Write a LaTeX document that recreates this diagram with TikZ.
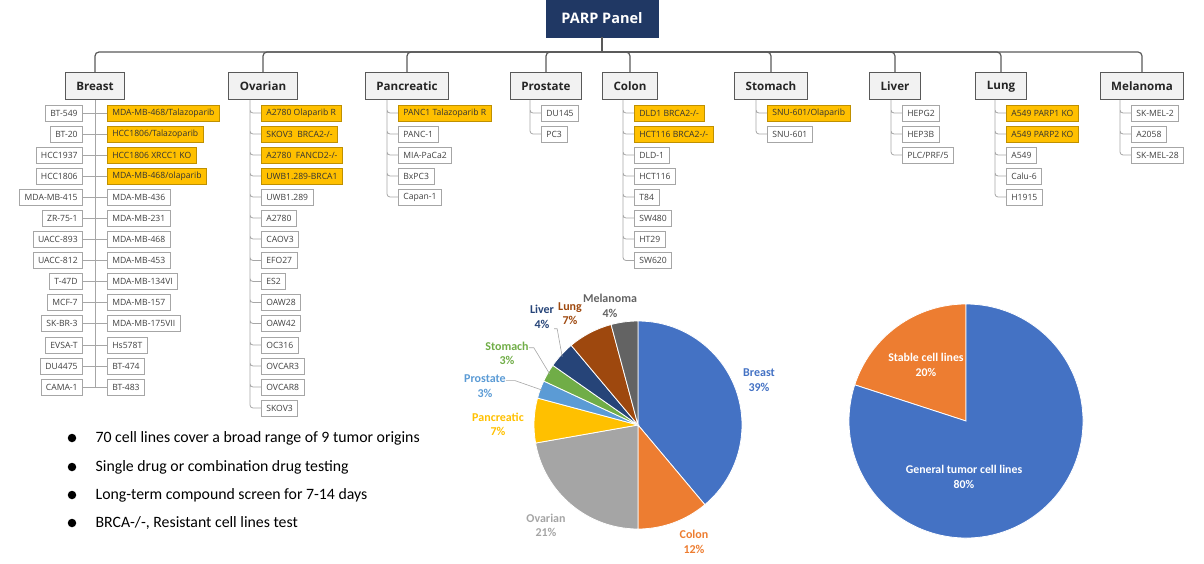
\documentclass[tikz,border=0pt]{standalone}
\usepackage{fontspec}
\setmainfont{Carlito}
\newfontfamily\treefont{Open Sans}
\usetikzlibrary{positioning}

\definecolor{navy}{HTML}{203864}
\definecolor{gold}{HTML}{FFC000}
\definecolor{golddark}{HTML}{BF9000}
\definecolor{boxline}{HTML}{A6A6A6}
\definecolor{headline}{HTML}{595959}
\definecolor{headfill}{HTML}{F2F2F2}
\definecolor{ink}{HTML}{404040}
\definecolor{cBreast}{HTML}{4472C4}
\definecolor{cColon}{HTML}{ED7D31}
\definecolor{cOvarian}{HTML}{A5A5A5}
\definecolor{cPancreatic}{HTML}{FFC000}
\definecolor{cProstate}{HTML}{5B9BD5}
\definecolor{cStomach}{HTML}{70AD47}
\definecolor{cLiver}{HTML}{264478}
\definecolor{cLung}{HTML}{9E480E}
\definecolor{cMelanoma}{HTML}{636363}

\begin{document}
\begin{tikzpicture}[
      x=1pt, y=1pt,
      every node/.style={font=\treefont\fontsize{8.6}{9}\selectfont, text=ink},
      rootbox/.style={rectangle, draw=navy, fill=navy, text=white, font=\treefont\bfseries\fontsize{14.5}{16}\selectfont, minimum width=112pt, minimum height=37pt},
      headbox/.style={rectangle, draw=headline, line width=1pt, fill=headfill, text=black!85, font=\treefont\bfseries\fontsize{11.6}{13}\selectfont, minimum height=27pt, inner xsep=11pt},
      cell/.style={rectangle, draw=boxline, fill=white, line width=0.7pt, minimum height=16pt, inner xsep=5pt, inner ysep=0pt},
      hot/.style={cell, draw=golddark, fill=gold, text=black!80},
      trunk/.style={draw=headline, line width=1.2pt, rounded corners=4pt},
      twig/.style={draw=boxline, line width=0.8pt, rounded corners=3pt},
      slice/.style={draw=white, line width=0.8pt},
      pielbl/.style={font=\bfseries\fontsize{12}{14.5}\selectfont, align=center, inner sep=0pt},
      bigpielbl/.style={pielbl, text=white, font=\bfseries\fontsize{11.8}{15}\selectfont},
      leader/.style={draw=boxline, line width=0.6pt},
      dot/.style={circle, fill=black, inner sep=0pt, minimum size=8.5pt},
      point/.style={font=\fontsize{15.8}{18}\selectfont, text=black, anchor=west, inner sep=0pt}
    ]
      \useasboundingbox (0,0) rectangle (1204,-564);

      % Row 0: Root
      \node[rootbox] (root) at (602,-18.5) {PARP Panel};
      \coordinate (bus) at (602,-52);

      % Row 1: Tumor origins
      \node[headbox] (breast) at (95,-86.5) {Breast};
      \node[headbox] (ovarian) at (263,-86.5) {Ovarian};
      \node[headbox] (pancreatic) at (407,-86.5) {Pancreatic};
      \node[headbox] (prostate) at (546,-86.5) {Prostate};
      \node[headbox] (colon) at (630,-86.5) {Colon};
      \node[headbox] (stomach) at (771,-86.5) {Stomach};
      \node[headbox] (liver) at (895,-86.5) {Liver};
      \node[headbox] (lung) at (1001,-86.5) {Lung};
      \node[headbox] (melanoma) at (1142,-86.5) {Melanoma};

      % Breast: left column
      \node[cell, anchor=east] (bl1) at (83,-113) {BT-549};
      \node[cell, anchor=east] (bl2) at (83,-134) {BT-20};
      \node[cell, anchor=east] (bl3) at (83,-155) {HCC1937};
      \node[cell, anchor=east] (bl4) at (83,-176) {HCC1806};
      \node[cell, anchor=east] (bl5) at (83,-197) {MDA-MB-415};
      \node[cell, anchor=east] (bl6) at (83,-218) {ZR-75-1};
      \node[cell, anchor=east] (bl7) at (83,-239) {UACC-893};
      \node[cell, anchor=east] (bl8) at (83,-260.5) {UACC-812};
      \node[cell, anchor=east] (bl9) at (83,-281.5) {T-47D};
      \node[cell, anchor=east] (bl10) at (83,-302.5) {MCF-7};
      \node[cell, anchor=east] (bl11) at (83,-323.5) {SK-BR-3};
      \node[cell, anchor=east] (bl12) at (83,-345) {EVSA-T};
      \node[cell, anchor=east] (bl13) at (83,-366) {DU4475};
      \node[cell, anchor=east] (bl14) at (83,-387) {CAMA-1};

      % Breast: right column
      \node[hot, anchor=west] (br1) at (107,-113) {MDA-MB-468/Talazoparib};
      \node[hot, anchor=west] (br2) at (107,-134) {HCC1806/Talazoparib};
      \node[hot, anchor=west] (br3) at (107,-155) {HCC1806 XRCC1 KO};
      \node[hot, anchor=west] (br4) at (107,-176) {MDA-MB-468/olaparib};
      \node[cell, anchor=west] (br5) at (107,-197) {MDA-MB-436};
      \node[cell, anchor=west] (br6) at (107,-218) {MDA-MB-231};
      \node[cell, anchor=west] (br7) at (107,-239) {MDA-MB-468};
      \node[cell, anchor=west] (br8) at (107,-260.5) {MDA-MB-453};
      \node[cell, anchor=west] (br9) at (107,-281.5) {MDA-MB-134VI};
      \node[cell, anchor=west] (br10) at (107,-302.5) {MDA-MB-157};
      \node[cell, anchor=west] (br11) at (107,-323.5) {MDA-MB-175VII};
      \node[cell, anchor=west] (br12) at (107,-345) {Hs578T};
      \node[cell, anchor=west] (br13) at (107,-366) {BT-474};
      \node[cell, anchor=west] (br14) at (107,-387) {BT-483};

      % Ovarian
      \node[hot, anchor=west] (o1) at (261,-113) {A2780 Olaparib R};
      \node[hot, anchor=west] (o2) at (261,-134) {SKOV3\ \ BRCA2-/-};
      \node[hot, anchor=west] (o3) at (261,-155) {A2780\ \ FANCD2-/-};
      \node[hot, anchor=west] (o4) at (261,-176) {UWB1.289-BRCA1};
      \node[cell, anchor=west] (o5) at (261,-197) {UWB1.289};
      \node[cell, anchor=west] (o6) at (261,-218) {A2780};
      \node[cell, anchor=west] (o7) at (261,-239) {CAOV3};
      \node[cell, anchor=west] (o8) at (261,-260.5) {EFO27};
      \node[cell, anchor=west] (o9) at (261,-281.5) {ES2};
      \node[cell, anchor=west] (o10) at (261,-302.5) {OAW28};
      \node[cell, anchor=west] (o11) at (261,-323.5) {OAW42};
      \node[cell, anchor=west] (o12) at (261,-345) {OC316};
      \node[cell, anchor=west] (o13) at (261,-366) {OVCAR3};
      \node[cell, anchor=west] (o14) at (261,-387) {OVCAR8};
      \node[cell, anchor=west] (o15) at (261,-408) {SKOV3};

      % Pancreatic
      \node[hot, anchor=west] (pa1) at (398,-113) {PANC1 Talazoparib R};
      \node[cell, anchor=west] (pa2) at (398,-134) {PANC-1};
      \node[cell, anchor=west] (pa3) at (398,-155) {MIA-PaCa2};
      \node[cell, anchor=west] (pa4) at (398,-176) {BxPC3};
      \node[cell, anchor=west] (pa5) at (398,-197) {Capan-1};

      % Prostate
      \node[cell, anchor=west] (pr1) at (541,-113) {DU145};
      \node[cell, anchor=west] (pr2) at (541,-134) {PC3};

      % Colon
      \node[hot, anchor=west] (c1) at (634,-113) {DLD1 BRCA2-/-};
      \node[hot, anchor=west] (c2) at (634,-134) {HCT116 BRCA2-/-};
      \node[cell, anchor=west] (c3) at (634,-155) {DLD-1};
      \node[cell, anchor=west] (c4) at (634,-176) {HCT116};
      \node[cell, anchor=west] (c5) at (634,-197) {T84};
      \node[cell, anchor=west] (c6) at (634,-218) {SW480};
      \node[cell, anchor=west] (c7) at (634,-239) {HT29};
      \node[cell, anchor=west] (c8) at (634,-260.5) {SW620};

      % Stomach
      \node[hot, anchor=west] (s1) at (767,-113) {SNU-601/Olaparib};
      \node[cell, anchor=west] (s2) at (767,-134) {SNU-601};

      % Liver
      \node[cell, anchor=west] (li1) at (902,-113) {HEPG2};
      \node[cell, anchor=west] (li2) at (902,-134) {HEP3B};
      \node[cell, anchor=west] (li3) at (902,-155) {PLC/PRF/5};

      % Lung
      \node[hot, anchor=west] (lu1) at (1006,-113) {A549 PARP1 KO};
      \node[hot, anchor=west] (lu2) at (1006,-134) {A549 PARP2 KO};
      \node[cell, anchor=west] (lu3) at (1006,-155) {A549};
      \node[cell, anchor=west] (lu4) at (1006,-176) {Calu-6};
      \node[cell, anchor=west] (lu5) at (1006,-197) {H1915};

      % Melanoma
      \node[cell, anchor=west] (m1) at (1131,-113) {SK-MEL-2};
      \node[cell, anchor=west] (m2) at (1131,-134) {A2058};
      \node[cell, anchor=west] (m3) at (1131,-155) {SK-MEL-28};

      % === TREE LINES ===
      \draw[trunk] (root) -- (bus);
      \draw[trunk] (breast) |- (bus);
      \draw[trunk] (ovarian) |- (bus);
      \draw[trunk] (pancreatic) |- (bus);
      \draw[trunk] (prostate) |- (bus);
      \draw[trunk] (colon) |- (bus);
      \draw[trunk] (stomach) |- (bus);
      \draw[trunk] (liver) |- (bus);
      \draw[trunk] (lung) |- (bus);
      \draw[trunk] (melanoma) |- (bus);

      % Breast: one trunk, rows cross it
      \draw[twig] (breast) -- (breast |- bl14);
      \draw[twig] (bl1) -- (br1);
      \draw[twig] (bl2) -- (br2);
      \draw[twig] (bl3) -- (br3);
      \draw[twig] (bl4) -- (br4);
      \draw[twig] (bl5) -- (br5);
      \draw[twig] (bl6) -- (br6);
      \draw[twig] (bl7) -- (br7);
      \draw[twig] (bl8) -- (br8);
      \draw[twig] (bl9) -- (br9);
      \draw[twig] (bl10) -- (br10);
      \draw[twig] (bl11) -- (br11);
      \draw[twig] (bl12) -- (br12);
      \draw[twig] (bl13) -- (br13);
      \draw[twig] (bl14) -- (br14);

      % Other origins: elbow from trunk top to each cell
      \coordinate (ovTop) at (250,-100);
      \coordinate (paTop) at (387,-100);
      \coordinate (prTop) at (530,-100);
      \coordinate (coTop) at (623,-100);
      \coordinate (stTop) at (756,-100);
      \coordinate (liTop) at (891,-100);
      \coordinate (luTop) at (995,-100);
      \coordinate (meTop) at (1120,-100);

      \draw[twig] (ovTop) |- (o1) (ovTop) |- (o2) (ovTop) |- (o3) (ovTop) |- (o4)
        (ovTop) |- (o5) (ovTop) |- (o6) (ovTop) |- (o7) (ovTop) |- (o8)
        (ovTop) |- (o9) (ovTop) |- (o10) (ovTop) |- (o11) (ovTop) |- (o12)
        (ovTop) |- (o13) (ovTop) |- (o14) (ovTop) |- (o15);
      \draw[twig] (paTop) |- (pa1) (paTop) |- (pa2) (paTop) |- (pa3) (paTop) |- (pa4) (paTop) |- (pa5);
      \draw[twig] (prTop) |- (pr1) (prTop) |- (pr2);
      \draw[twig] (coTop) |- (c1) (coTop) |- (c2) (coTop) |- (c3) (coTop) |- (c4)
        (coTop) |- (c5) (coTop) |- (c6) (coTop) |- (c7) (coTop) |- (c8);
      \draw[twig] (stTop) |- (s1) (stTop) |- (s2);
      \draw[twig] (liTop) |- (li1) (liTop) |- (li2) (liTop) |- (li3);
      \draw[twig] (luTop) |- (lu1) (luTop) |- (lu2) (luTop) |- (lu3) (luTop) |- (lu4) (luTop) |- (lu5);
      \draw[twig] (meTop) |- (m1) (meTop) |- (m2) (meTop) |- (m3);

      % === PIE: origins ===
      \coordinate (pieA) at (638,-425);
      \draw[slice, fill=cBreast] (pieA) -- ++(90:104) arc[start angle=90, end angle=-50, radius=104] -- cycle;
      \draw[slice, fill=cColon] (pieA) -- ++(-50:104) arc[start angle=-50, end angle=-90, radius=104] -- cycle;
      \draw[slice, fill=cOvarian] (pieA) -- ++(-90:104) arc[start angle=-90, end angle=-170, radius=104] -- cycle;
      \draw[slice, fill=cPancreatic] (pieA) -- ++(-170:104) arc[start angle=-170, end angle=-195, radius=104] -- cycle;
      \draw[slice, fill=cProstate] (pieA) -- ++(-195:104) arc[start angle=-195, end angle=-205, radius=104] -- cycle;
      \draw[slice, fill=cStomach] (pieA) -- ++(-205:104) arc[start angle=-205, end angle=-215, radius=104] -- cycle;
      \draw[slice, fill=cLiver] (pieA) -- ++(-215:104) arc[start angle=-215, end angle=-230, radius=104] -- cycle;
      \draw[slice, fill=cLung] (pieA) -- ++(-230:104) arc[start angle=-230, end angle=-255, radius=104] -- cycle;
      \draw[slice, fill=cMelanoma] (pieA) -- ++(-255:104) arc[start angle=-255, end angle=-270, radius=104] -- cycle;

      \node[pielbl, text=cBreast] (lBreast) at (759,-380) {Breast\\39\%};
      \node[pielbl, text=cColon] (lColon) at (694,-542) {Colon\\12\%};
      \node[pielbl, text=cOvarian] (lOvarian) at (546,-525.5) {Ovarian\\21\%};
      \node[pielbl, text=cPancreatic] (lPancreatic) at (498,-424.5) {Pancreatic\\7\%};
      \node[pielbl, text=cProstate] (lProstate) at (485,-386) {Prostate\\3\%};
      \node[pielbl, text=cStomach] (lStomach) at (507,-353.5) {Stomach\\3\%};
      \node[pielbl, text=cLiver] (lLiver) at (542,-317) {Liver\\4\%};
      \node[pielbl, text=cLung] (lLung) at (570,-313.5) {Lung\\7\%};
      \node[pielbl, text=cMelanoma] (lMelanoma) at (610,-306) {Melanoma\\4\%};

      % leaders for the thin slices
      \path (pieA) ++(160:102) coordinate (tipProstate);
      \path (pieA) ++(150:102) coordinate (tipStomach);
      \path (pieA) ++(138:102) coordinate (tipLiver);
      \draw[leader] ([yshift=-6pt]lProstate.north east) -- ++(9,0) -- (tipProstate);
      \draw[leader] ([yshift=-6pt]lStomach.north east) -- ++(5,0) -- (tipStomach);
      \draw[leader] (lLiver.south east) -- ++(3,0) -- (tipLiver);

      % === PIE: stable vs general ===
      \coordinate (pieB) at (966,-421);
      \draw[slice, fill=cColon] (pieB) -- ++(90:117) arc[start angle=90, end angle=162, radius=117] -- cycle;
      \draw[slice, fill=cBreast] (pieB) -- ++(162:117) arc[start angle=162, end angle=450, radius=117] -- cycle;
      \node[bigpielbl] (lStable) at (926,-364.5) {Stable cell lines\\20\%};
      \node[bigpielbl] (lGeneral) at (964,-476.5) {General tumor cell lines\\80\%};

      % === BULLETS ===
      \node[dot] (d1) at (72,-438) {};
      \node[dot] (d2) at (72,-467) {};
      \node[dot] (d3) at (72,-495) {};
      \node[dot] (d4) at (72,-523) {};
      \node[point, right=19pt of d1] (t1) {70 cell lines cover a broad range of 9 tumor origins};
      \node[point, right=19pt of d2] (t2) {Single drug or combination drug testing};
      \node[point, right=19pt of d3] (t3) {Long-term compound screen for 7-14 days};
      \node[point, right=19pt of d4] (t4) {BRCA-/-, Resistant cell lines test};
    \end{tikzpicture}
\end{document}
